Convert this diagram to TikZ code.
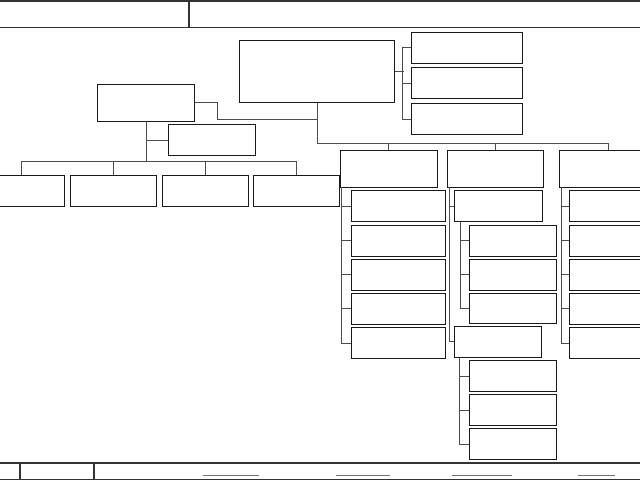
\documentclass[tikz,border=0pt]{standalone}
\usetikzlibrary{positioning}
\begin{document}
\begin{tikzpicture}[x=1pt,y=-1pt,
  box/.style={draw=black!90,line width=0.9pt,rectangle,inner sep=0pt,anchor=north west,minimum height=31pt},
  conn/.style={draw=black!70,line width=0.8pt},
  frame/.style={draw=black!80,line width=1.3pt},
  sig/.style={draw=black!55,line width=0.8pt}]
\clip (0,0) rectangle (640,480);
\fill[white] (0,0) rectangle (640,480);
% frame top
\draw[frame] (0,1) -- (640,1);
\draw[frame] (0,27.5) -- (640,27.5);
\draw[frame] (189,1) -- (189,27.5);
% frame bottom
\draw[frame] (0,463) -- (640,463);
\draw[frame] (0,479.3) -- (640,479.3);
\draw[frame] (20,463) -- (20,479.3);
\draw[frame] (94,463) -- (94,479.3);
\draw[sig] (203,475) -- (259,475);
\draw[sig] (336,475) -- (390,475);
\draw[sig] (452,475) -- (511.5,475);
\draw[sig] (577.5,475) -- (615,475);
% top boxes
\node[box,minimum width=155pt,minimum height=62pt] (main) at (239,40) {};
\node[box,minimum width=110.5pt] (r1) at (411,31.5) {};
\node[box,minimum width=110.5pt] (r2) at (411,67) {};
\node[box,minimum width=110.5pt] (r3) at (411,103) {};
\node[box,minimum width=97pt,minimum height=37pt] (left) at (97,83.5) {};
\node[box,minimum width=87pt] (asst) at (168,124) {};
% left row
\node[box,minimum width=86pt] (l1) at (-22,175) {};
\node[box,minimum width=86pt] (l2) at (70,175) {};
\node[box,minimum width=86pt] (l3) at (161.5,175) {};
\node[box,minimum width=86pt] (l4) at (252.5,175) {};
% column heads
\node[box,minimum width=96.5pt,minimum height=37pt] (A) at (340,149.5) {};
\node[box,minimum width=96.5pt,minimum height=37pt] (B) at (446.7,149.5) {};
\node[box,minimum width=97pt,minimum height=37pt] (C) at (559,149.5) {};
% column A and C children
\foreach \i/\y in {1/190.3,2/224.7,3/258.7,4/292.7,5/327}{
  \node[box,minimum width=94.3pt] (A\i) at (350.7,\y) {};
  \node[box,minimum width=94.3pt] (C\i) at (568.7,\y) {};
}
% column B
\node[box,minimum width=87.7pt] (B1) at (454,190.3) {};
\node[box,minimum width=87.5pt] (B2) at (453.5,325.7) {};
\foreach \i/\y in {a/225,b/259,c/292.7}{
  \node[box,minimum width=87.6pt,minimum height=30.5pt] (B1\i) at (468.7,\y) {};
}
\foreach \i/\y in {a/360,b/394.3,c/428.3}{
  \node[box,minimum width=87.4pt] (B2\i) at (468.7,\y) {};
}
% connectors: main to right boxes
\draw[conn] (r1.west) -| ([xshift=-8.3pt]r3.west) -- (r3.west);
\draw[conn] (r2.west) -- ++(-8.3,0);
\draw[conn] (main.east) -- ++(8.7,0);
% main down to columns
\draw[conn] (main.south) -- ++(0,40) coordinate (busR) -| (C.north);
\draw[conn] (A.north) -- (A.north |- busR);
\draw[conn] (B.north) -- (B.north |- busR);
% main to left box
\draw[conn] (left.east) -- ++(22.7,0) |- (main.south |- 0,119);
% left box down
\draw[conn] (left.south) -- ++(0,40.5) coordinate (lb);
\draw[conn] (asst.west) -- (asst.west -| left.south);
\draw[conn] (l1.north) -- ++(0,-14) -| (l4.north);
\draw[conn] (l2.north) -- (l2.north |- lb);
\draw[conn] (l3.north) -- (l3.north |- lb);
% column A
\coordinate (Ax) at ([xshift=1.5pt]A.south west);
\draw[conn] (Ax) |- (A5.west);
\foreach \i in {1,2,3,4}{\draw[conn] (A\i.west) -- (A\i.west -| Ax);}
% column C
\coordinate (Cx) at ([xshift=2pt]C.south west);
\draw[conn] (Cx) |- (C5.west);
\foreach \i in {1,2,3,4}{\draw[conn] (C\i.west) -- (C\i.west -| Cx);}
% column B
\coordinate (Bx) at ([xshift=2.6pt]B.south west);
\draw[conn] (Bx) |- (B2.west);
\draw[conn] (B1.west) -- (B1.west -| Bx);
\coordinate (B1x) at ([xshift=6.3pt]B1.south west);
\draw[conn] (B1x) |- (B1c.west);
\foreach \i in {a,b}{\draw[conn] (B1\i.west) -- (B1\i.west -| B1x);}
\coordinate (B2x) at ([xshift=6.2pt]B2.south west);
\draw[conn] (B2x) |- (B2c.west);
\foreach \i in {a,b}{\draw[conn] (B2\i.west) -- (B2\i.west -| B2x);}
\end{tikzpicture}
\end{document}
